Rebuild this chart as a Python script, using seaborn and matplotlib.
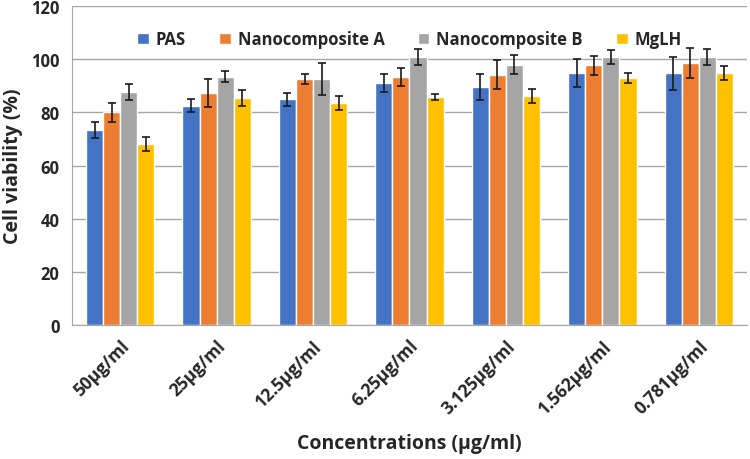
import pandas as pd
import seaborn as sns
import matplotlib.pyplot as plt

# valeurs
concentrations = ["50µg/ml", "25µg/ml", "12.5µg/ml", "6.25µg/ml", "3.125µg/ml", "1.562µg/ml", "0.781µg/ml"]
groups = ["PAS", "Nanocomposite A", "Nanocomposite B", "MgLH"]

pas = [73.4, 82.5, 84.9, 90.9, 89.5, 94.7, 94.7]
nano_a = [80.0, 87.2, 92.5, 93.4, 94.2, 97.6, 98.6]
nano_b = [87.6, 93.4, 92.5, 100.8, 97.9, 100.8, 100.8]
mglh = [68.2, 85.4, 83.4, 85.7, 86.2, 92.9, 94.7]

pas_err = [2.9, 2.5, 2.5, 3.4, 5.0, 5.3, 6.2]
nano_a_err = [3.6, 5.3, 1.9, 3.4, 5.5, 3.4, 5.7]
nano_b_err = [3.1, 2.0, 5.9, 3.0, 3.6, 2.7, 3.1]
mglh_err = [2.7, 2.9, 2.7, 1.2, 2.7, 1.9, 2.6]

colors = ["#4472C4", "#ED7D31", "#A5A5A5", "#FFC000"]

values = [pas, nano_a, nano_b, mglh]
errors = [pas_err, nano_a_err, nano_b_err, mglh_err]

rows = []
for g, vals in zip(groups, values):
    for c, v in zip(concentrations, vals):
        rows.append({"conc": c, "group": g, "viab": v})
df = pd.DataFrame(rows)

sns.set_style("white")
plt.rcParams["font.family"] = ["Open Sans", "DejaVu Sans"]

fig = plt.figure(figsize=(7.5, 4.6), dpi=100)
ax = fig.add_axes([0.096, 0.291, 0.9, 0.694])

sns.barplot(data=df, x="conc", y="viab", hue="group", order=concentrations,
            hue_order=groups, palette=colors, width=0.71, saturation=1,
            errorbar=None, ax=ax, zorder=2)

# barres d'erreur
for cont, err in zip(ax.containers, errors):
    xs = [b.get_x() + b.get_width() / 2 for b in cont]
    hs = [b.get_height() for b in cont]
    ax.errorbar(xs, hs, yerr=err, fmt="none", ecolor="#1a1a1a",
                elinewidth=1.2, capsize=3, capthick=1.2, zorder=3)

ax.set_ylim(0, 120)
ax.set_xlim(-0.5, len(concentrations) - 0.5)
ax.set_yticks(range(0, 121, 20))
ax.yaxis.grid(True, color="#a6a6a6", linewidth=1, zorder=0)
ax.set_axisbelow(True)

for s in ["top", "right"]:
    ax.spines[s].set_visible(False)
ax.spines["left"].set_color("#a6a6a6")
ax.spines["bottom"].set_color("#a6a6a6")

# ticks x aux limites de groupes
ax.set_xticks([i - 0.5 for i in range(len(concentrations) + 1)], minor=True)
ax.tick_params(axis="x", which="minor", length=6, color="#a6a6a6", direction="out")
ax.tick_params(axis="x", which="major", length=0, pad=8)
ax.tick_params(axis="y", length=5, color="#a6a6a6", direction="out", pad=4)

ax.set_xticks(range(len(concentrations)))
ax.set_xticklabels(concentrations, rotation=45, ha="right", rotation_mode="anchor",
                   fontsize=12.5, fontweight="bold", color="#262626")
for lab in ax.get_yticklabels():
    lab.set_fontsize(12)
    lab.set_fontweight("bold")
    lab.set_color("#262626")

ax.set_xlabel("Concentrations (µg/ml)", fontsize=14, fontweight="bold", labelpad=12)
ax.set_ylabel("Cell viability (%)", fontsize=14, fontweight="bold", labelpad=6)

ax.legend(loc="upper center", bbox_to_anchor=(0.5, 0.97), ncol=4, frameon=False,
          prop={"weight": "bold", "size": 12}, handlelength=0.7, handleheight=0.7,
          columnspacing=2.0, handletextpad=0.4)

fig.savefig("out.png", dpi=100)
